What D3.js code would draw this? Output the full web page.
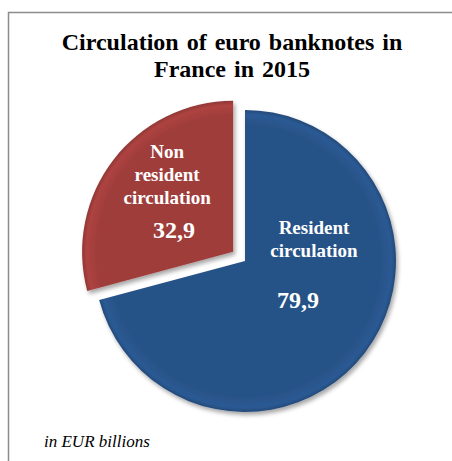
<!DOCTYPE html>
<html><head><meta charset="utf-8">
<script src="https://cdn.jsdelivr.net/npm/d3@7"></script>
<style>html,body{margin:0;padding:0;background:#fff}svg{display:block}</style>
</head><body>
<svg id="c" width="452" height="461"></svg>
<script>
const categories = ["Resident circulation", "Non resident circulation"];
const values = [79.9, 32.9];
const labelLines = [["Resident", "circulation"], ["Non", "resident", "circulation"]];
const valueLabels = ["79,9", "32,9"];
const titleLines = ["Circulation of euro banknotes in", "France in 2015"];
const unitNote = "in EUR billions";
const colors = ["#285287", "#9f3d3b"];

const svg = d3.select("#c");
const W = 452, H = 461;
const cx = 245, cy = 261, R = 151, explode = [0, 15];
// label anchors relative to each slice's own vertex (layout only)
const labelPos = [{x: 69, y: -27, vy: 51, vx: -16}, {x: -66, y: -94, vy: 34, vx: 7}];

const defs = svg.append("defs");
const f = defs.append("filter").attr("id", "sh").attr("x", "-20%").attr("y", "-20%").attr("width", "140%").attr("height", "140%");
f.append("feDropShadow").attr("dx", 2).attr("dy", 3).attr("stdDeviation", 2).attr("flood-color", "#000").attr("flood-opacity", 0.35);
colors.forEach((c, i) => {
  const g = defs.append("radialGradient").attr("id", "g" + i).attr("gradientUnits", "userSpaceOnUse")
    .attr("cx", 0).attr("cy", 0).attr("r", R);
  g.append("stop").attr("offset", "0.9").attr("stop-color", c);
  g.append("stop").attr("offset", "0.97").attr("stop-color", d3.color(c).brighter(0.25));
  g.append("stop").attr("offset", "1").attr("stop-color", d3.color(c).darker(0.3));
});

// frame
svg.append("path").attr("d", `M8.5,${H} L8.5,12.5 L${W},12.5`).attr("fill", "none").attr("stroke", "#8c8c8c").attr("stroke-width", 1.5);

// title
svg.append("text").attr("x", 232).attr("y", 50).attr("text-anchor", "middle")
  .attr("font-family", "Liberation Serif, Times New Roman, serif").attr("font-weight", "bold").attr("font-size", 24).attr("fill", "#000")
  .attr("word-spacing", 2)
  .selectAll("tspan").data(titleLines).join("tspan").attr("x", 232).attr("dy", (d, i) => i ? 27 : 0).text(d => d);

const pie = d3.pie().sort(null).startAngle(0).endAngle(2 * Math.PI);
const arcs = pie(values);
const arc = d3.arc().innerRadius(0).outerRadius(R);

const slices = svg.append("g").selectAll("g").data(arcs).join("g")
  .attr("transform", (d, i) => {
    const m = (d.startAngle + d.endAngle) / 2;
    return `translate(${cx + Math.sin(m) * explode[i]},${cy - Math.cos(m) * explode[i]})`;
  });
slices.append("path").attr("d", arc).attr("fill", (d, i) => `url(#g${i})`).attr("filter", "url(#sh)");

slices.each(function(d, i) {
  const g = d3.select(this);
  const p = labelPos[i];
  const t = g.append("text").attr("text-anchor", "middle").attr("fill", "#fff")
    .attr("font-family", "Liberation Serif, Times New Roman, serif").attr("font-weight", "bold").attr("font-size", 19);
  t.selectAll("tspan").data(labelLines[i]).join("tspan").attr("x", p.x).attr("y", (l, j) => p.y + j * 23).text(l => l);
  g.append("text").attr("text-anchor", "middle").attr("fill", "#fff")
    .attr("font-family", "Liberation Serif, Times New Roman, serif").attr("font-weight", "bold").attr("font-size", 24)
    .attr("x", p.x + p.vx).attr("y", p.y + (labelLines[i].length - 1) * 23 + p.vy).text(valueLabels[i]);
});

svg.append("text").attr("x", 44).attr("y", 447).attr("font-family", "Liberation Serif, Times New Roman, serif")
  .attr("font-style", "italic").attr("font-size", 17).attr("fill", "#000").text(unitNote);
</script>
</body></html>
